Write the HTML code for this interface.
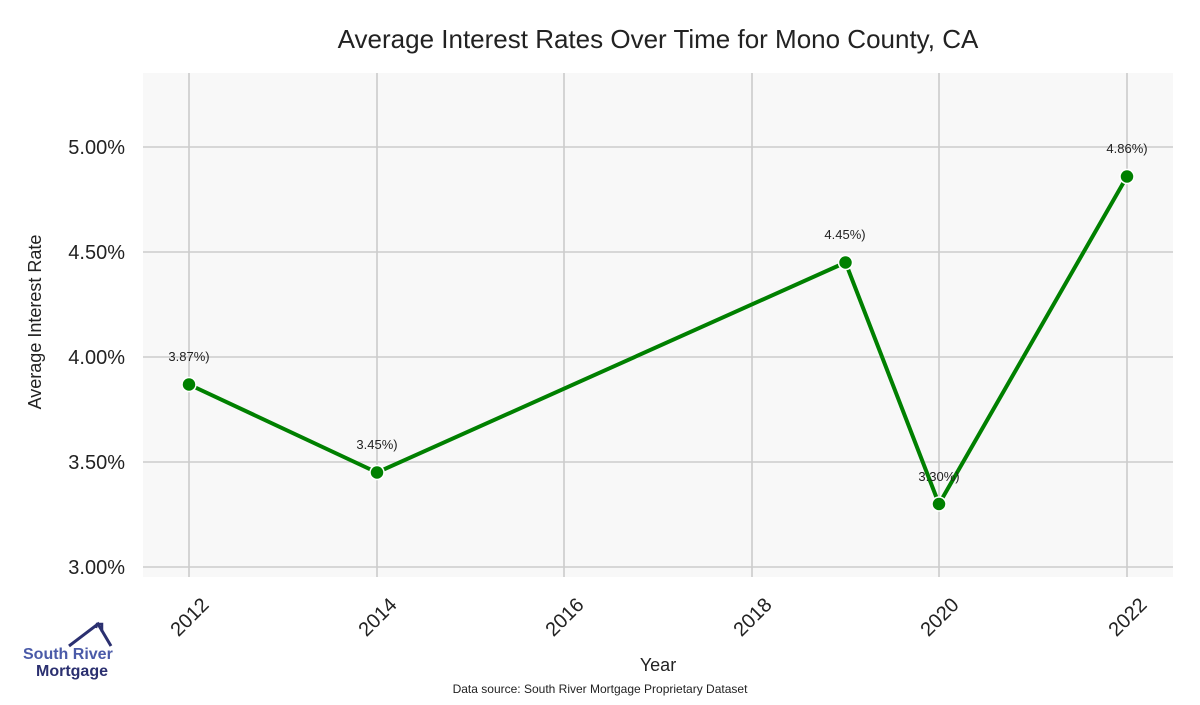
<!DOCTYPE html>
<html><head><style>body{margin:0;background:#fff}</style></head><body>
<svg width="1200" height="700" xmlns="http://www.w3.org/2000/svg" font-family="Liberation Sans, sans-serif">
<rect width="1200" height="700" fill="#fff"/>
<rect x="143" y="73" width="1030" height="504" fill="#f8f8f8"/>
<g stroke="#cccccc" stroke-width="1.6">
<line x1="143" x2="1173" y1="147" y2="147"/><line x1="143" x2="1173" y1="252" y2="252"/><line x1="143" x2="1173" y1="357" y2="357"/><line x1="143" x2="1173" y1="462" y2="462"/><line x1="143" x2="1173" y1="567" y2="567"/>
<line x1="189" x2="189" y1="73" y2="577"/><line x1="377" x2="377" y1="73" y2="577"/><line x1="564" x2="564" y1="73" y2="577"/><line x1="752" x2="752" y1="73" y2="577"/><line x1="939" x2="939" y1="73" y2="577"/><line x1="1127" x2="1127" y1="73" y2="577"/>
</g>
<text x="658" y="48" font-size="26" text-anchor="middle" fill="#222">Average Interest Rates Over Time for Mono County, CA</text>
<g font-size="20" fill="#222" text-anchor="end">
<text x="125" y="154">5.00%</text><text x="125" y="259">4.50%</text><text x="125" y="364">4.00%</text><text x="125" y="469">3.50%</text><text x="125" y="574">3.00%</text>
</g>
<text transform="translate(41,322) rotate(-90)" font-size="18" text-anchor="middle" fill="#222">Average Interest Rate</text>
<g font-size="20" fill="#222" text-anchor="end">
<text transform="translate(210,606) rotate(-45)">2012</text>
<text transform="translate(398,606) rotate(-45)">2014</text>
<text transform="translate(585,606) rotate(-45)">2016</text>
<text transform="translate(773,606) rotate(-45)">2018</text>
<text transform="translate(960,606) rotate(-45)">2020</text>
<text transform="translate(1148,606) rotate(-45)">2022</text>
</g>
<text x="658" y="671" font-size="18" text-anchor="middle" fill="#222">Year</text>
<text x="600" y="693" font-size="12" text-anchor="middle" fill="#222">Data source: South River Mortgage Proprietary Dataset</text>
<polyline points="189,384.5 377,472.5 845.5,262.5 939,504 1127,176.5" fill="none" stroke="#008000" stroke-width="4" stroke-linejoin="round"/>
<g fill="#008000" stroke="#fff" stroke-width="1.5">
<circle cx="189" cy="384.5" r="7"/><circle cx="377" cy="472.5" r="7"/><circle cx="845.5" cy="262.5" r="7"/><circle cx="939" cy="504" r="7"/><circle cx="1127" cy="176.5" r="7"/>
</g>
<g font-size="13" fill="#222" text-anchor="middle">
<text x="189" y="361">3.87%)</text><text x="377" y="449">3.45%)</text><text x="845" y="239">4.45%)</text><text x="939" y="481">3.30%)</text><text x="1127" y="153">4.86%)</text>
</g>
<polyline points="69,646 98,624 111,646" fill="none" stroke="#2b3070" stroke-width="3"/>
<polyline points="96,628 97,624 102,624 102,632" fill="none" stroke="#2b3070" stroke-width="2.5"/>
<text x="23" y="659" font-size="16" font-weight="bold" fill="#4a5aa8">South River</text>
<text x="36" y="676" font-size="16" font-weight="bold" fill="#2b3070">Mortgage</text>
</svg>
</body></html>
